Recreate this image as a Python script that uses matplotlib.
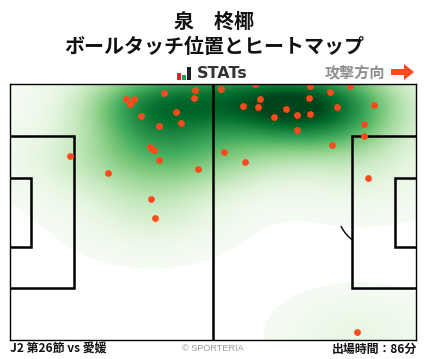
import numpy as np
import matplotlib
matplotlib.use("Agg")
import matplotlib.pyplot as plt
from matplotlib.patches import Rectangle, Arc, Polygon

plt.rcParams['font.family'] = ['Noto Sans CJK JP', 'DejaVu Sans']

W, H = 428, 359

# touch positions in metres on a 105 x 68 pitch
touch_x = [29.9, 32.0, 31.0, 39.8, 47.8, 47.5, 42.9, 33.8, 44.2, 38.5, 36.2, 37.2, 38.5, 48.6,
           15.6, 25.3, 36.4, 37.5, 54.5, 63.3, 77.5, 87.9, 82.7, 77.3, 64.6, 60.2, 64.1, 71.3,
           84.5, 94.1, 77.5, 74.2, 68.2, 91.5, 74.2, 91.5, 83.2, 55.3, 60.7, 92.5, 89.7]
touch_y = [64.1, 64.1, 62.7, 65.7, 66.5, 64.3, 60.6, 59.5, 57.7, 56.9, 51.3, 50.5, 47.9, 45.5,
           48.9, 44.4, 37.5, 32.5, 66.7, 67.9, 67.5, 67.5, 65.9, 64.3, 64.1, 62.2, 61.9, 61.4,
           61.9, 62.5, 60.1, 59.8, 59.3, 57.4, 55.8, 54.2, 51.8, 50.0, 47.3, 43.1, 2.2]

title_name = "泉\u3000柊椰"
title_main = "ボールタッチ位置とヒートマップ"
match_label = "J2 第26節 vs 愛媛"
minutes_label = "出場時間：86分"


def kde(xs, ys, gx, gy):
    # gaussian kde, scott bandwidth on full covariance
    pts = np.vstack([xs, ys])
    n = pts.shape[1]
    cov = np.cov(pts) * n ** (-1 / 3)
    inv = np.linalg.inv(cov)
    dx = gx[..., None] - pts[0]
    dy = gy[..., None] - pts[1]
    q = inv[0, 0] * dx ** 2 + 2 * inv[0, 1] * dx * dy + inv[1, 1] * dy ** 2
    return np.exp(-0.5 * q).sum(axis=-1)


def fig_text(px, py, s, **kw):
    fig.text(px / W, 1 - py / H, s, va='center', **kw)


def fig_rect(x0, y0, x1, y1, color):
    fig.add_artist(Rectangle((x0 / W, 1 - y1 / H), (x1 - x0) / W, (y1 - y0) / H,
                             transform=fig.transFigure, color=color, lw=0))


fig = plt.figure(figsize=(W / 100, H / 100), dpi=100)
ax = fig.add_axes([10 / W, 18.6 / H, 406 / W, 256.4 / H])

# penalty arcs sit under the heatmap, only show where it is white
ax.add_patch(Arc((11, 34), 18.3, 18.3, theta1=-53, theta2=53, color='black', lw=1.0, zorder=1))
ax.add_patch(Arc((94, 34), 18.3, 18.3, theta1=127, theta2=233, color='black', lw=1.0, zorder=1))

gx, gy = np.meshgrid(np.linspace(0, 105, 406), np.linspace(0, 68, 256))
dens = kde(touch_x, touch_y, gx, gy)
dens = dens / dens.max()
dens = np.ma.masked_less(dens, 0.012)
ax.imshow(dens, extent=[0, 105, 0, 68], origin='lower', cmap='Greens', vmin=0, vmax=0.95,
          aspect='auto', interpolation='nearest', zorder=2)

lw = 1.8
# boxes
for x0, x1 in [(0, 16.5), (105, 88.5)]:
    ax.plot([x0, x1, x1, x0], [13.84, 13.84, 54.16, 54.16], color='black', lw=lw, zorder=3,
            solid_joinstyle='miter')
for x0, x1 in [(0, 5.5), (105, 99.5)]:
    ax.plot([x0, x1, x1, x0], [24.84, 24.84, 43.16, 43.16], color='black', lw=lw, zorder=3,
            solid_joinstyle='miter')
ax.plot([52.5, 52.5], [0, 68], color='black', lw=lw, zorder=3)

ax.scatter(touch_x, touch_y, s=24, color='#ff4a1c', lw=0, zorder=4)

ax.set_xlim(0, 105)
ax.set_ylim(0, 68)
ax.set_xticks([])
ax.set_yticks([])
for s in ax.spines.values():
    s.set_linewidth(1.0)
    s.set_zorder(5)

# header
fig_text(214, 21, title_name, ha='center', fontsize=14.4, fontweight='bold', color='#111111')
fig_text(214, 46.5, title_main, ha='center', fontsize=14.4, fontweight='bold', color='#111111')

# stats logo
fig_rect(177, 73, 181, 80, '#e8222a')
fig_rect(182, 75, 186, 80, '#1fa04a')
fig_rect(187, 67, 191, 80, '#222222')
fig_text(197, 73.5, "STATs", ha='left', fontsize=11.5, fontweight='bold', color='#333333',
         family='DejaVu Sans')

fig_text(385.5, 72, "攻撃方向", ha='right', fontsize=10.9, fontweight='bold', color='#8e8e8e')
arrow = [(391, 69), (404, 69), (404, 64), (414, 72), (404, 80), (404, 75), (391, 75)]
fig.add_artist(Polygon([(x / W, 1 - y / H) for x, y in arrow], closed=True,
                       transform=fig.transFigure, color='#ff4a1c', lw=0))

# footer
fig_text(10, 349, match_label, ha='left', fontsize=8.6, fontweight='bold', color='#111111')
fig_text(213, 348.5, "© SPORTERIA", ha='center', fontsize=6.6, color='#9a9a9a',
         family='Liberation Sans')
fig_text(417, 349, minutes_label, ha='right', fontsize=8.6, fontweight='bold', color='#111111')

fig.savefig("out.png", dpi=100)
